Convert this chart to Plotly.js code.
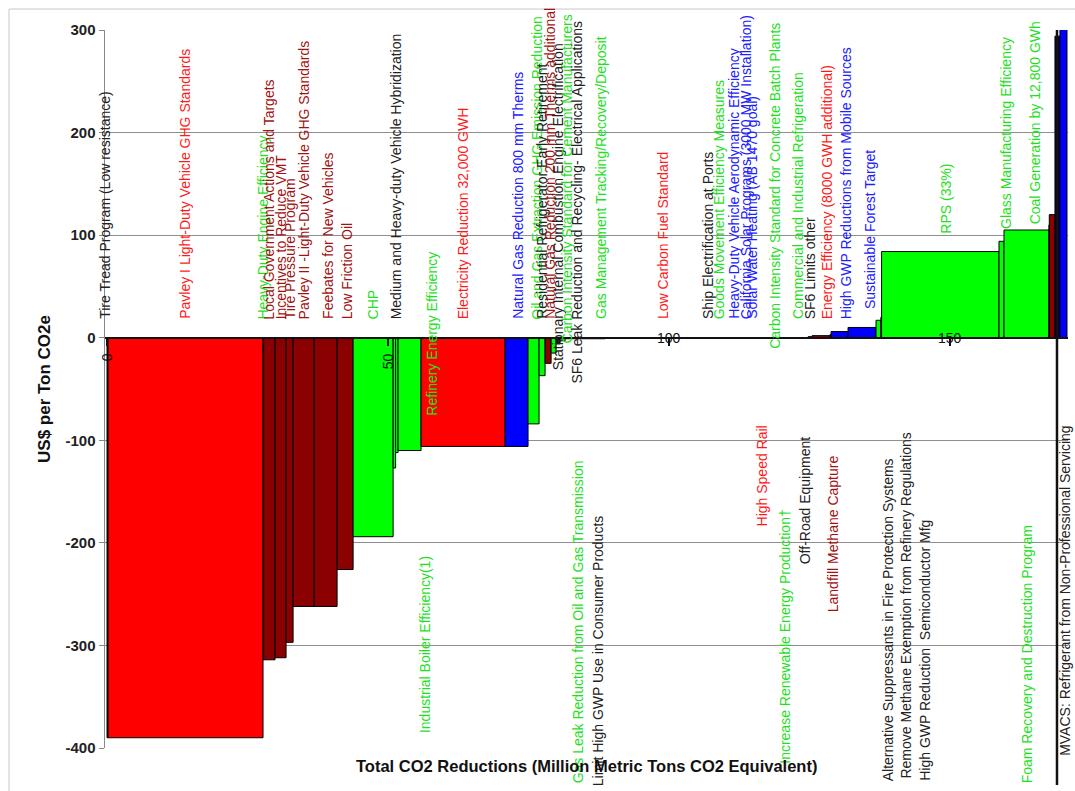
<!DOCTYPE html>
<html><head><meta charset="utf-8">
<script src="https://cdn.plot.ly/plotly-3.0.1.min.js"></script>
<style>html,body{margin:0;padding:0;background:#fff;}#chart{width:1075px;height:791px;}</style>
</head><body><div id="chart"></div>
<script>
// ---- data ----
const measures = [
 "Tire Tread Program (Low resistance)",
 "Pavley I Light-Duty Vehicle GHG Standards",
 "Heavy-Duty Engine Efficiency",
 "Local Government Actions and Targets",
 "Incentives to Reduce VMT",
 "Tire Pressure Program",
 "Pavley II -Light-Duty Vehicle GHG Standards",
 "Feebates for New Vehicles",
 "Low Friction Oil",
 "CHP",
 "Medium and Heavy-duty Vehicle Hybridization",
 "Industrial Boiler Efficiency(1)",
 "Refinery Energy Efficiency",
 "Electricity Reduction 32,000 GWH",
 "Natural Gas Reduction 800 mm Therms",
 "Oil and Gas Extraction GHG Emission Reduction",
 "Residential Refrigerator Early Retirement",
 "Natural Gas Reduction 200 mm Therms additional",
 "Stationary Internal Combustion Engine Electrification",
 "Carbon Intensity Standard for Cement Manufacturers",
 "SF6 Leak Reduction and Recycling- Electrical Applications",
 "Gas Leak Reduction from Oil and Gas Transmission",
 "Limit High GWP Use in Consumer Products",
 "Gas Management Tracking/Recovery/Deposit",
 "Low Carbon Fuel Standard",
 "Ship Electrification at Ports",
 "Goods Movement Efficiency Measures",
 "Heavy-Duty Vehicle Aerodynamic Efficiency",
 "California Solar Programs (3000 MW Installation)",
 "Solar Water Heating (AB 1470 goal)",
 "High Speed Rail",
 "Carbon Intensity Standard for Concrete Batch Plants",
 "Increase Renewable Energy Production\u2020",
 "Commercial and Industrial Refrigeration",
 "Off-Road Equipment",
 "SF6 Limits other",
 "Energy Efficiency (8000 GWH additional)",
 "Landfill Methane Capture",
 "High GWP Reductions from Mobile Sources",
 "Sustainable Forest Target",
 "Alternative Suppressants in Fire Protection Systems",
 "Remove Methane Exemption from Refinery Regulations",
 "High GWP Reduction  Semiconductor Mfg",
 "RPS (33%)",
 "Glass Manufacturing Efficiency",
 "Coal Generation by 12,800 GWh",
 "Foam Recovery and Destruction Program",
 "",
 "MVACS: Refrigerant from Non-Professional Servicing",
 ""
];
// CO2 reductions (million metric tons CO2e) = bar widths
const reductions = [0.18,27.58,0.11,2.03,1.96,1.25,3.74,4.09,2.85,7.12,
 0.44,0.44,4.09,14.95,4.09,1.96,1.07,1.07,0.89,0.71,
 0.89,4.63,1.07,1.42,18.68,0.53,1.96,3.56,0.71,1.42,
 2.14,2.49,1.25,2.31,1.07,0.71,3.20,0.18,3.02,4.98,
 0.89,0.05,0.05,20.89,0.89,8.01,0.05,1.01,0.89,1.25];
// cost (US$ per ton CO2e) = bar heights
const costs = [-390,-390,-314,-314,-312,-297,-262,-262,-226,-194,
 -127,-112,-110,-106,-106,-84,-37,-25,-15,-6,
 -3,-1,-1,-1,0,0,0,0,0,0,
 0,0,0,0,0,1,2,3,6,10,
 17,20,20,84,94,105,110,120,294,330];
// sector keys (bar fill) and label colour keys
const sectors = ["K","R","G","DR","DR","DR","DR","DR","DR","G",
 "G","G","G","R","B","G","G","DR","G","K",
 "G","G","K","G","R","K","G","B","B","B",
 "R","G","G","G","K","K","DR","DR","B","B",
 "G","G","G","G","G","G","G","DR","N","B"];
const labelKeys = ["K","R","G","DR","DR","DR","DR","DR","DR","G",
 "K","G","G","R","B","G","K","DR","K","G",
 "K","G","K","G","R","K","G","B","B","B",
 "R","G","G","G","K","K","R","DR","B","B",
 "K","K","K","G","G","G","G","DR","K","B"];
const yTickVals = [300,200,100,0,-100,-200,-300,-400];
const yTickText = ["300","200","100","0","-100","-200","-300","-400"];
const xTickVals = [0,50,100,150];
const xTickText = ["0","50","100","150"];

// ---- label layout (placement only) ----
const labelShift = [-0.45,0,0,0,0,0,0,0.45,0.35,0,
 0.3,5.0,4.0,0,0.27,0.6,0,0.35,0.8,1.6,
 2.6,0,0.7,0,1.0,-0.6,0,0,0,0,
 0,0,0,0.45,0,0,1.07,0.45,1.15,1.4,
 1.7,4.4,7.75,1.0,0.8,1.5,-3.95,0,1.33,0];
const labelY = [17,17,17,17,17,17,17,17,17,17,
 17,-211.5,-77,17,17,17,17,17,-33,-7,
 -46,-119,-172.5,17,17,17,17,17,17,17,
 -85,-11.7,-165.7,17,-96.5,17,17,-114,17,27.3,
 -117,-91.6,-177,100.4,105,110,-182,17,-85,17];
const labelAnchor = ["b","b","b","b","b","b","b","b","b","b",
 "b","t","b","b","b","b","b","b","b","b",
 "b","t","t","b","b","b","b","b","b","b",
 "t","b","t","b","t","b","b","t","b","b",
 "t","t","t","b","b","b","t","b","t","b"];

const barColors = {R:"#ff0000",DR:"#8b0000",G:"#00ff00",B:"#0000ff",K:"#1a1a1a",N:"#000066"};
const textColors = {R:"#ff1a1a",DR:"#a11212",G:"#1ee01e",B:"#2020ff",K:"#222222"};
const FONT = "Liberation Sans, Arial, sans-serif";

const centers = [];
let cum = 0;
reductions.forEach(w => { centers.push(cum + w/2); cum += w; });

const trace = {
  type: "bar",
  x: centers,
  y: costs,
  width: reductions,
  text: measures,
  marker: {color: sectors.map(s => barColors[s]), line: {color: "#000", width: 1}},
  hoverinfo: "skip",
  textposition: "none",
  showlegend: false
};

const annotations = [];
measures.forEach((m, i) => {
  if (!m) return;
  annotations.push({
    x: centers[i] + labelShift[i], y: labelY[i], xref: "x", yref: "y",
    text: m, textangle: -90, showarrow: false, xanchor: "center",
    yanchor: labelAnchor[i] === "t" ? "top" : "bottom", borderpad: 0,
    font: {family: FONT, size: 14, color: textColors[labelKeys[i]]}
  });
});
// x tick labels drawn on the zero line
const tickAngles = [-90,-90,0,0];
const tickY = [-19,-23,0,0];
xTickVals.forEach((v, i) => {
  annotations.push({x: v, y: tickY[i], xref: "x", yref: "y", text: xTickText[i],
    textangle: tickAngles[i], showarrow: false, xanchor: "center", yanchor: "middle",
    font: {family: FONT, size: 14, color: "#111"}});
});
annotations.push({x: 0.5, y: -0.025, xref: "paper", yref: "paper", yanchor: "middle",
  text: "Total CO2 Reductions (Million Metric Tons CO2 Equivalent)", showarrow: false,
  font: {family: FONT, size: 16.5, color: "#111", weight: "bold"}});

const layout = {
  width: 1075, height: 791,
  margin: {l: 105, r: 7, t: 30, b: 43},
  paper_bgcolor: "#fff", plot_bgcolor: "#fff",
  showlegend: false, hovermode: false,
  xaxis: {range: [-0.36, 171.0], anchor: "free", position: 4/7, showline: true,
    linecolor: "#111", linewidth: 2, ticks: "outside", ticklen: 7, tickwidth: 1.5,
    tickcolor: "#111", tickvals: xTickVals, showticklabels: false, showgrid: false,
    zeroline: false},
  yaxis: {range: [-400, 300], tickvals: yTickVals, ticktext: yTickText, ticks: "outside", ticklen: 5,
    tickcolor: "#888", showline: true, linecolor: "#888", linewidth: 1.5,
    showgrid: true, gridcolor: "#8f8f8f", gridwidth: 1, zeroline: false,
    tickfont: {family: FONT, size: 15, color: "#222", weight: "bold"},
    title: {text: "US$ per Ton CO2e", standoff: 10,
      font: {family: FONT, size: 17, color: "#111", weight: "bold"}}},
  annotations: annotations,
  shapes: [
    {type: "rect", xref: "paper", yref: "paper", x0: -0.0997, x1: 1.02, y0: -0.08, y1: 1.0292,
     line: {color: "#c8c8c8", width: 1}, layer: "below"},
    {type: "line", xref: "x", yref: "paper", x0: 169.04, x1: 169.04, y0: 1, y1: -0.0515,
     line: {color: "#111", width: 2.5}}
  ]
};

Plotly.newPlot("chart", [trace], layout, {staticPlot: true, displayModeBar: false});
</script></body></html>
